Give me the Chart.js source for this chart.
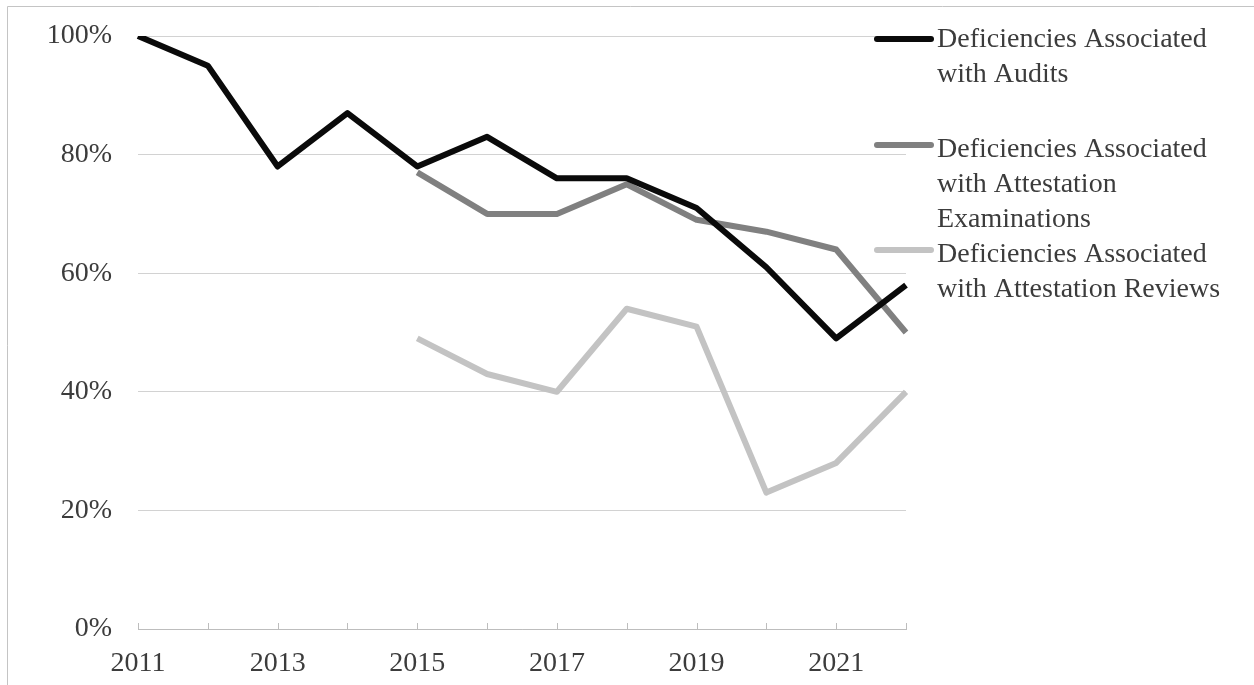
<!DOCTYPE html>
<html>
<head>
<meta charset="utf-8">
<script src="https://cdn.jsdelivr.net/npm/chart.js@4/dist/chart.umd.min.js"></script>
<style>
  html, body { margin: 0; padding: 0; background: #fff; }
  #wrap { width: 1254px; height: 685px; }
</style>
</head>
<body>
<div id="wrap"><canvas id="deficiencyChart" width="1254" height="685"></canvas></div>
<script>
// 审查年份
const years = ['2011', '2012', '2013', '2014', '2015', '2016', '2017', '2018', '2019', '2020', '2021', '2022'];

// 各类缺陷占比（%）
const auditValues = [100, 95, 78, 87, 78, 83, 76, 76, 71, 61, 49, 58];
const examinationValues = [null, null, null, null, 77, 70, 70, 75, 69, 67, 64, 50];
const reviewValues = [null, null, null, null, 49, 43, 40, 54, 51, 23, 28, 40];

// 图例文字（分行）
const auditLabel = ['Deficiencies Associated', 'with Audits'];
const examinationLabel = ['Deficiencies Associated', 'with Attestation', 'Examinations'];
const reviewLabel = ['Deficiencies Associated', 'with Attestation Reviews'];

const yTicks = [0, 20, 40, 60, 80, 100];

const FONT = "'Liberation Serif', 'Times New Roman', serif";
const TEXT = '#3c3c3c';

// 外框（左、上）
const framePlugin = {
    id: 'frame',
    beforeDraw(chart) {
        const ctx = chart.ctx;
        ctx.save();
        ctx.fillStyle = '#fff';
        ctx.fillRect(0, 0, chart.width, chart.height);
        ctx.strokeStyle = '#c4c4c4';
        ctx.lineWidth = 1;
        ctx.beginPath();
        ctx.moveTo(7.5, chart.height);
        ctx.lineTo(7.5, 6.5);
        ctx.lineTo(chart.width, 6.5);
        ctx.stroke();
        ctx.restore();
    }
};

// x 轴内侧刻度线
const innerTicksPlugin = {
    id: 'innerTicks',
    afterDatasetsDraw(chart) {
        const ctx = chart.ctx;
        const x = chart.scales.x;
        const bottom = chart.chartArea.bottom;
        ctx.save();
        ctx.strokeStyle = '#bdbdbd';
        ctx.lineWidth = 1;
        ctx.beginPath();
        years.forEach((y, i) => {
            const px = Math.round(x.getPixelForValue(i)) + 0.5;
            ctx.moveTo(px, bottom - 6);
            ctx.lineTo(px, bottom);
        });
        ctx.stroke();
        ctx.restore();
    }
};

// 右侧多行图例
const sideLegendPlugin = {
    id: 'sideLegend',
    afterDraw(chart) {
        const ctx = chart.ctx;
        const tops = [40, 150, 255];
        const symbolY = [39, 145, 250];
        const lineH = 35;
        ctx.save();
        ctx.font = '28px ' + FONT;
        ctx.fillStyle = TEXT;
        ctx.textBaseline = 'middle';
        chart.data.datasets.forEach((ds, i) => {
            ctx.strokeStyle = ds.borderColor;
            ctx.lineWidth = 6;
            ctx.lineCap = 'round';
            ctx.beginPath();
            ctx.moveTo(877, symbolY[i]);
            ctx.lineTo(931, symbolY[i]);
            ctx.stroke();
            ds.legendLines.forEach((t, j) => {
                ctx.fillText(t, 937, tops[i] + j * lineH);
            });
        });
        ctx.restore();
    }
};

const chart = new Chart(
    document.getElementById('deficiencyChart'),
    {
        type: 'line',
        data: {
            labels: years,
            datasets: [
                {
                    label: auditLabel.join(' '),
                    legendLines: auditLabel,
                    data: auditValues,
                    borderColor: '#0a0a0a',
                    borderWidth: 6
                },
                {
                    label: examinationLabel.join(' '),
                    legendLines: examinationLabel,
                    data: examinationValues,
                    borderColor: '#808080',
                    borderWidth: 6
                },
                {
                    label: reviewLabel.join(' '),
                    legendLines: reviewLabel,
                    data: reviewValues,
                    borderColor: '#c3c3c3',
                    borderWidth: 6
                }
            ]
        },
        options: {
            responsive: false,
            animation: false,
            devicePixelRatio: 1,
            layout: {
                padding: { left: 10, top: 36, right: 348, bottom: 0 }
            },
            elements: {
                point: { radius: 0, hoverRadius: 0 },
                line: { tension: 0, borderJoinStyle: 'round', borderCapStyle: 'butt' }
            },
            scales: {
                x: {
                    offset: false,
                    grid: { display: false, drawTicks: false },
                    border: { display: true, color: '#bdbdbd', width: 1 },
                    ticks: {
                        autoSkip: false,
                        maxRotation: 0,
                        padding: 18,
                        color: TEXT,
                        font: { family: FONT, size: 28 },
                        callback: function(v, i) {
                            return i % 2 === 0 ? years[i] : '';
                        }
                    },
                    afterFit: function(scale) {
                        scale.height = 56;
                        scale.paddingLeft = 0;
                        scale.paddingRight = 0;
                    }
                },
                y: {
                    min: 0,
                    max: 100,
                    afterBuildTicks: function(scale) {
                        scale.ticks = yTicks.map(v => ({ value: v }));
                    },
                    grid: { color: '#d2d2d2', lineWidth: 1, drawTicks: false },
                    border: { display: false },
                    ticks: {
                        padding: 26,
                        color: TEXT,
                        font: { family: FONT, size: 28 },
                        callback: function(v) { return v + '%'; }
                    },
                    afterFit: function(scale) {
                        scale.width = 128;
                        scale.paddingTop = 0;
                        scale.paddingBottom = 0;
                    }
                }
            },
            plugins: {
                legend: { display: false },
                tooltip: { enabled: false }
            }
        },
        plugins: [framePlugin, innerTicksPlugin, sideLegendPlugin]
    }
);
</script>
</body>
</html>
